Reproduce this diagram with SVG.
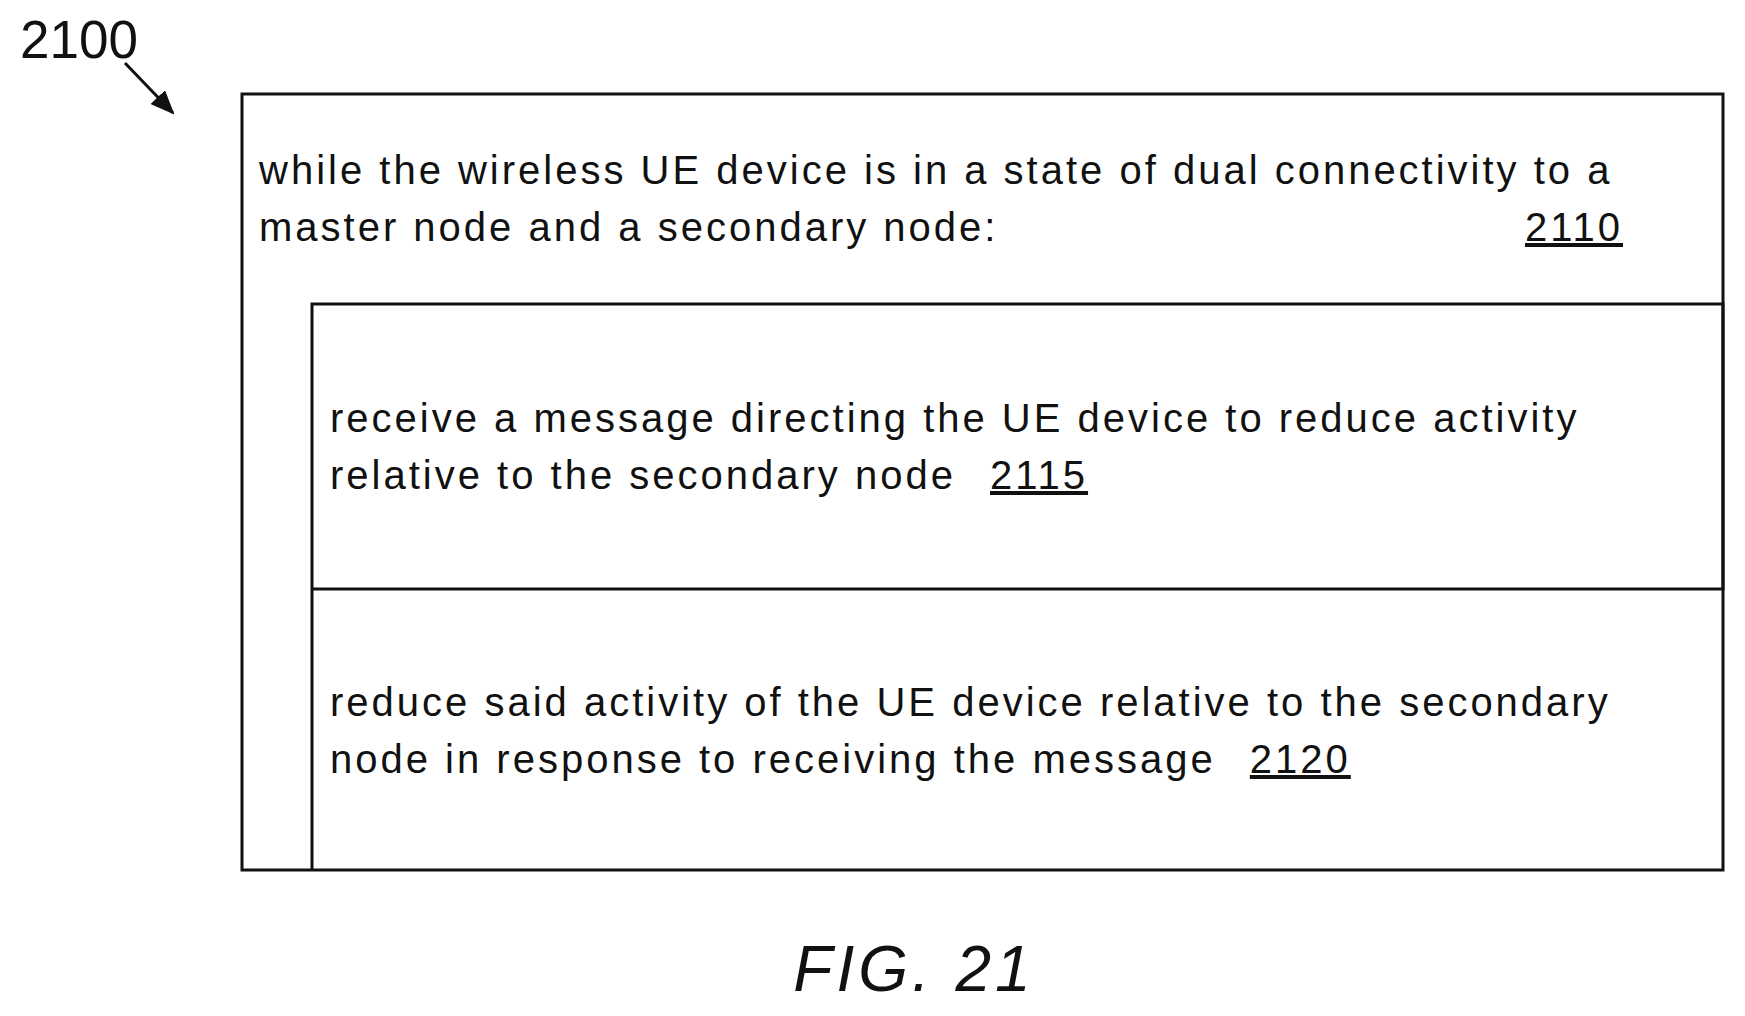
<svg xmlns="http://www.w3.org/2000/svg" width="1745" height="1016" viewBox="0 0 1745 1016">
<style>
text{font-family:"Liberation Sans",Arial,sans-serif;fill:#111;}
.t{font-size:40px;letter-spacing:3px;}
.box{fill:none;stroke:#111;stroke-width:3;}
</style>
<defs><marker id="ah" markerWidth="24" markerHeight="20" refX="22" refY="10" orient="auto" markerUnits="userSpaceOnUse" viewBox="0 0 24 20"><path d="M0,0 L24,10 L0,20 z" fill="#111"/></marker></defs>
<rect width="1745" height="1016" fill="#fff"/>
<text x="20" y="58" style="font-size:53px">2100</text>
<g id="connectors"><line x1="125" y1="63" x2="173" y2="113" stroke="#111" stroke-width="3" marker-end="url(#ah)"/></g>
<g id="n2110">
<rect class="box" x="242" y="94" width="1481" height="776"/>
<text class="t" x="259" y="184">while the wireless UE device is in a state of dual connectivity to a</text>
<text class="t" x="259" y="241">master node and a secondary node:</text>
<text class="t" x="1525" y="241" text-decoration="underline">2110</text>
</g>
<g id="n2115">
<path class="box" d="M312,870 V304 H1723 V589 H312"/>
<text class="t" x="330" y="432">receive a message directing the UE device to reduce activity</text>
<text class="t" x="330" y="489">relative to the secondary node <tspan dx="20" text-decoration="underline">2115</tspan></text>
</g>
<g id="n2120">
<text class="t" x="330" y="716">reduce said activity of the UE device relative to the secondary</text>
<text class="t" x="330" y="773">node in response to receiving the message <tspan dx="20" text-decoration="underline">2120</tspan></text>
</g>
<text x="914" y="991" text-anchor="middle" style="font-size:64px;font-style:italic;letter-spacing:4px">FIG. 21</text>
</svg>
